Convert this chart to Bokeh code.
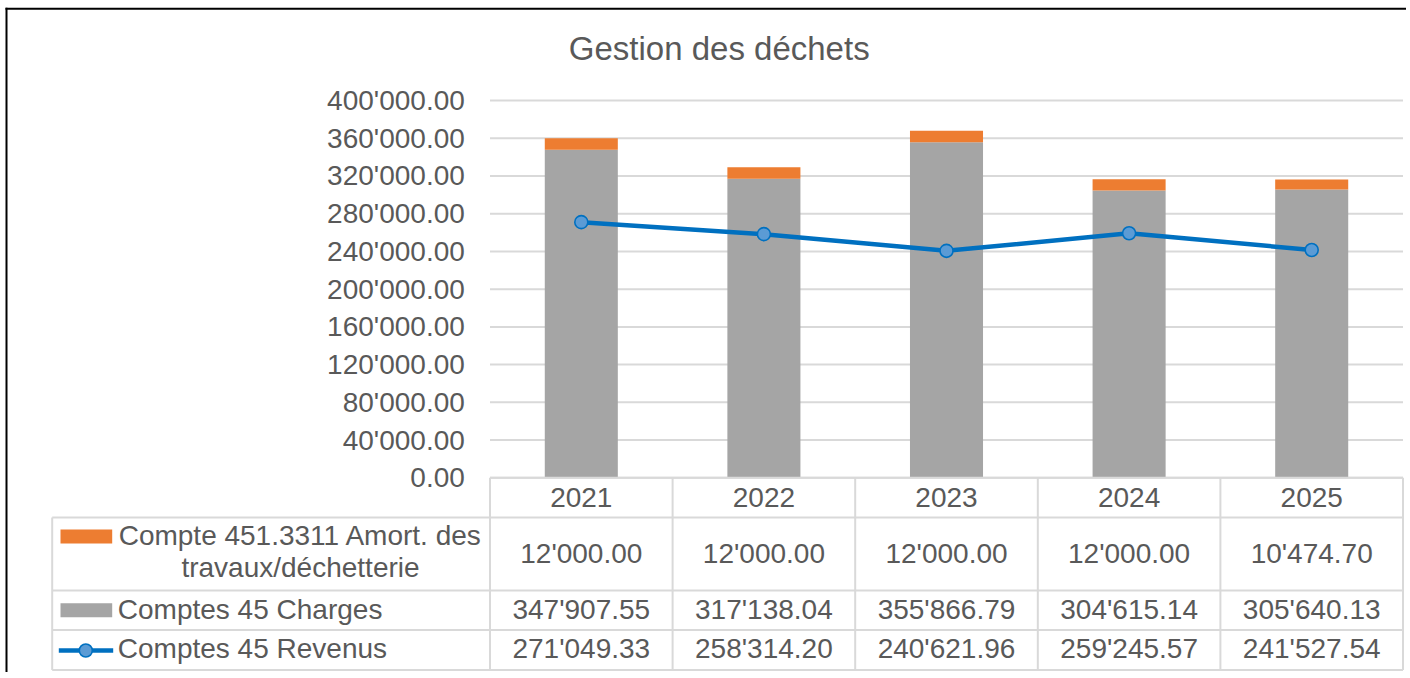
from bokeh.plotting import figure
from bokeh.models import Range1d, ColumnDataSource
from bokeh.core.properties import value
from bokeh.embed import file_html
from bokeh.resources import INLINE

# ---------------- data ----------------
title_text = "Gestion des déchets"
years = ["2021", "2022", "2023", "2024", "2025"]
amort = [12000.00, 12000.00, 12000.00, 12000.00, 10474.70]
charges = [347907.55, 317138.04, 355866.79, 304615.14, 305640.13]
revenus = [271049.33, 258314.20, 240621.96, 259245.57, 241527.54]
series_names = ["Compte 451.3311 Amort. des travaux/déchetterie",
                "Comptes 45 Charges",
                "Comptes 45 Revenus"]
y_ticks = [0, 40000, 80000, 120000, 160000, 200000, 240000, 280000,
           320000, 360000, 400000]


def fmt(v):
    return f"{v:,.2f}".replace(",", "'")


# ---------------- style / layout ----------------
W, H = 1406, 672
FONT = value("Liberation Sans")
TXT = "#595959"
GRIDC = "#D9D9D9"
ORANGE = "#ED7D31"
GRAY = "#A5A5A5"
BLUE = "#0070C0"
BLUE_FILL = "#5B9BD5"
FS = "28px"

CL, CR = 489.5, 1402.5          # plot area left/right (px)
PT, PB = 100.0, 477.3           # plot area top (max tick) / bottom (0)
n = len(years)
CW = (CR - CL) / n
YMAX = y_ticks[-1]
ppu = (PB - PT) / YMAX

x_start = -CL / CW - 0.5
x_end = (W - CL) / CW - 0.5
y_start = -(H - PB) / ppu
y_end = PB / ppu

# default ranges: canvas pixels (y down); extra ranges: data scales
p = figure(width=W, height=H, output_backend="svg", toolbar_location=None,
           x_range=Range1d(0, W), y_range=Range1d(H, 0),
           x_axis_type=None, y_axis_type=None, min_border=0,
           outline_line_color=None, background_fill_color="white",
           border_fill_color="white")
p.extra_x_ranges = {"dx": Range1d(x_start, x_end)}
p.extra_y_ranges = {"dy": Range1d(y_start, y_end)}
p.grid.visible = False

idx = list(range(n))

# outer black border (top, left)
p.line(x=[5, W], y=[8.3, 8.3], line_color="black", line_width=2)
p.line(x=[6, 6], y=[7.3, H], line_color="black", line_width=2)

# title
p.text(x=[718.7], y=[48.3], text=[title_text], text_font=FONT,
       text_font_size="33px", text_color=TXT, text_align="center",
       text_baseline="middle")

# gridlines
p.segment(x0=[-0.5] * len(y_ticks), x1=[n - 0.5] * len(y_ticks),
          y0=y_ticks, y1=y_ticks, line_color=GRIDC, line_width=2,
          x_range_name="dx", y_range_name="dy")

# y tick labels
p.text(x=[464.3] * len(y_ticks), y=y_ticks, text=[fmt(t) for t in y_ticks],
       text_font=FONT, text_font_size=FS, text_color=TXT, text_align="right",
       text_baseline="middle", y_range_name="dy")

# stacked bars
src = ColumnDataSource(dict(x=idx, charges=charges, amort=amort))
p.vbar_stack(["charges", "amort"], x="x", width=0.4, source=src,
             fill_color=[GRAY, ORANGE], line_color=None,
             x_range_name="dx", y_range_name="dy")

# revenue line
p.line(x=idx, y=revenus, line_color=BLUE, line_width=4.5,
       x_range_name="dx", y_range_name="dy")
p.scatter(x=idx, y=revenus, size=13, fill_color=BLUE_FILL, line_color=BLUE,
          line_width=1.6, x_range_name="dx", y_range_name="dy")

# ---------------- data table ----------------
TBL_LEFT = 51.7
ROW_LINES = [517.0, 590.0, 629.5, 669.5]
# horizontal lines
p.segment(x0=[CL], x1=[CR], y0=[PB], y1=[PB], line_color=GRIDC, line_width=2)
p.segment(x0=[TBL_LEFT] * len(ROW_LINES), x1=[CR] * len(ROW_LINES),
          y0=ROW_LINES, y1=ROW_LINES, line_color=GRIDC, line_width=2)
# vertical column lines
col_edges = [k - 0.5 for k in range(n + 1)]
p.segment(x0=col_edges, x1=col_edges, y0=[PB] * len(col_edges),
          y1=[ROW_LINES[-1]] * len(col_edges), line_color=GRIDC, line_width=2,
          x_range_name="dx")
p.segment(x0=[TBL_LEFT], x1=[TBL_LEFT], y0=[ROW_LINES[0]], y1=[ROW_LINES[-1]],
          line_color=GRIDC, line_width=2)

# header (categories)
p.text(x=idx, y=[496.8] * n, text=years, text_font=FONT, text_font_size=FS,
       text_color=TXT, text_align="center", text_baseline="middle",
       x_range_name="dx")
# values
row_mid = [552.8, 608.5, 647.5]
for vals, ym in zip([amort, charges, revenus], row_mid):
    p.text(x=idx, y=[ym] * n, text=[fmt(v) for v in vals], text_font=FONT,
           text_font_size=FS, text_color=TXT, text_align="center",
           text_baseline="middle", x_range_name="dx")

# legend keys
p.quad(left=[60.0], right=[111.7], top=[529.0], bottom=[543.0],
       fill_color=ORANGE, line_color=None)
p.quad(left=[60.0], right=[111.7], top=[602.7], bottom=[616.7],
       fill_color=GRAY, line_color=None)
p.segment(x0=[58.3], x1=[112.7], y0=[650.0], y1=[650.0], line_color=BLUE,
          line_width=4.5)
p.scatter(x=[85.3], y=[650.0], size=13, fill_color=BLUE_FILL, line_color=BLUE,
          line_width=1.6)

# legend texts
first_lines = series_names[0].rsplit(" ", 1)
p.text(x=[300.0, 300.0], y=[535.0, 566.7], text=first_lines, text_font=FONT,
       text_font_size=FS, text_color=TXT, text_align="center",
       text_baseline="middle")
p.text(x=[117.3, 117.3], y=[row_mid[1], row_mid[2]], text=series_names[1:],
       text_font=FONT, text_font_size=FS, text_color=TXT, text_align="left",
       text_baseline="middle")

open("out.html", "w").write(file_html(p, INLINE))
